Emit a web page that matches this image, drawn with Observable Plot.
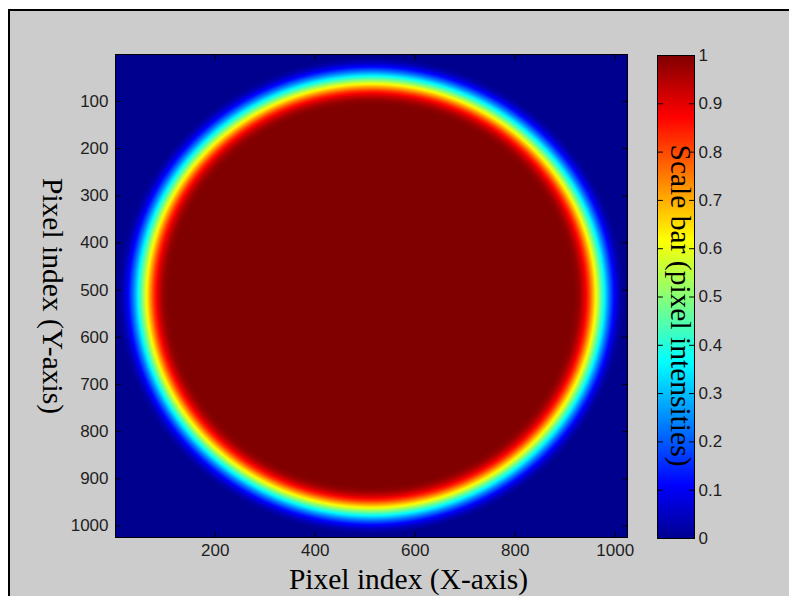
<!DOCTYPE html>
<html>
<head>
<meta charset="utf-8">
<script src="https://cdn.jsdelivr.net/npm/d3@7"></script>
<script src="https://cdn.jsdelivr.net/npm/@observablehq/plot@0.6"></script>
<style>
  html, body { margin: 0; padding: 0; background: #ffffff; }
  body { position: relative; width: 789px; height: 596px; overflow: hidden; }
  #fig { position: absolute; left: 8px; top: 9px; width: 800px; height: 600px;
         background: #cccccc; border-left: 2px solid #000; border-top: 2px solid #000; box-sizing: border-box; }
  svg.layer { position: absolute; left: 0; top: 0; }
</style>
</head>
<body>
<div id="fig"></div>
<script>
// ---- data ----
const xTicks = [200, 400, 600, 800, 1000];
const yTicks = [100, 200, 300, 400, 500, 600, 700, 800, 900, 1000];
const cbTicks = [0, 0.1, 0.2, 0.3, 0.4, 0.5, 0.6, 0.7, 0.8, 0.9, 1];
const imageSize = [1024, 1024];
const circleCenter = [512, 512];
// radial intensity profile of the disc (distance from centre in pixels -> intensity)
const radius    = [0, 405, 415, 425, 435, 445, 455, 465, 475, 485, 495, 505, 800];
const intensity = [1, 1,   0.98, 0.92, 0.82, 0.68, 0.53, 0.38, 0.24, 0.12, 0.04, 0, 0];
// jet colormap stops
const jetStops  = [0, 0.111, 0.365, 0.619, 0.873, 1];
const jetColors = ["#00008f", "#0000ff", "#00ffff", "#ffff00", "#ff0000", "#800000"];

const xLabel = "Pixel index (X-axis)";
const yLabel = "Pixel index (Y-axis)";
const cbLabel = "Scale bar (pixel intensities)";

const profile = d3.scaleLinear(radius, intensity).clamp(true);
const colorOpts = {type: "linear", domain: jetStops, range: jetColors, interpolate: "rgb"};
const tickShape = {draw(ctx, l) { ctx.moveTo(0, 0); ctx.lineTo(0, -l); }};
const vt = (data, ch, frameAnchor, rotate) =>
  Plot.vector(data, {[ch]: d => d, frameAnchor, rotate, length: 5, anchor: "start",
                     shape: tickShape, stroke: "black", strokeWidth: 1});
const sans = "'Liberation Sans', Arial, Helvetica, sans-serif";
const serif = "'Liberation Serif', 'Times New Roman', serif";
const tickFont = {fontFamily: sans, fontSize: 17, fill: "#1e1e1e"};
const labelFont = {fontFamily: serif, fontSize: 29.5, fill: "black"};

const main = Plot.plot({
  width: 789, height: 596,
  marginLeft: 115, marginRight: 162, marginTop: 54, marginBottom: 59,
  x: {domain: [0.5, imageSize[0] + 0.5]},
  y: {domain: [0.5, imageSize[1] + 0.5], reverse: true},
  color: colorOpts,
  style: {background: "transparent", fontFamily: sans, fontSize: "17px", color: "#1e1e1e"},
  marks: [
    Plot.raster({
      x1: 0.5, x2: imageSize[0] + 0.5, y1: 0.5, y2: imageSize[1] + 0.5,
      fill: (x, y) => profile(Math.hypot(x - circleCenter[0], y - circleCenter[1]))
    }),
    Plot.frame({stroke: "black", strokeWidth: 1}),
    vt(xTicks, "x", "bottom", 0),
    vt(xTicks, "x", "top", 180),
    vt(yTicks, "y", "left", 90),
    vt(yTicks, "y", "right", -90),
    Plot.axisX({ticks: xTicks, anchor: "bottom", tickSize: 0, tickPadding: 6, label: null,
      tickFormat: d => String(d), ...tickFont}),
    Plot.axisY({ticks: yTicks, anchor: "left", tickSize: 0, tickPadding: 7, label: null,
      tickFormat: d => String(d), ...tickFont}),
    Plot.text([xLabel], {text: d => d, frameAnchor: "bottom", textAnchor: "middle", dx: 37, dy: 51,
      lineAnchor: "bottom", ...labelFont}),
    Plot.text([yLabel], {text: d => d, frameAnchor: "left", textAnchor: "middle", dx: -73, dy: 0,
      rotate: 90, lineAnchor: "bottom", ...labelFont})
  ]
});
main.classList.add("layer");
document.body.appendChild(main);

const cbar = Plot.plot({
  width: 789, height: 596,
  marginLeft: 657, marginRight: 95, marginTop: 55, marginBottom: 58,
  x: {domain: [0, 1], axis: null},
  y: {domain: [0, 1], axis: null},
  color: colorOpts,
  style: {background: "transparent", fontFamily: sans, fontSize: "17px", color: "#1e1e1e"},
  marks: [
    Plot.raster({x1: 0, x2: 1, y1: 0, y2: 1, fill: (x, y) => y}),
    Plot.frame({stroke: "black", strokeWidth: 1}),
    vt(cbTicks, "y", "left", 90),
    vt(cbTicks, "y", "right", -90),
    Plot.axisY({ticks: cbTicks, anchor: "right", tickSize: 0, tickPadding: 4, label: null,
      tickFormat: d => String(+d.toFixed(1)), ...tickFont}),
    Plot.text([cbLabel], {text: d => d, frameAnchor: "left", textAnchor: "middle", dx: 13, dy: 8.5,
      rotate: 90, lineAnchor: "bottom", ...labelFont})
  ]
});
cbar.classList.add("layer");
document.body.appendChild(cbar);
</script>
</body>
</html>
